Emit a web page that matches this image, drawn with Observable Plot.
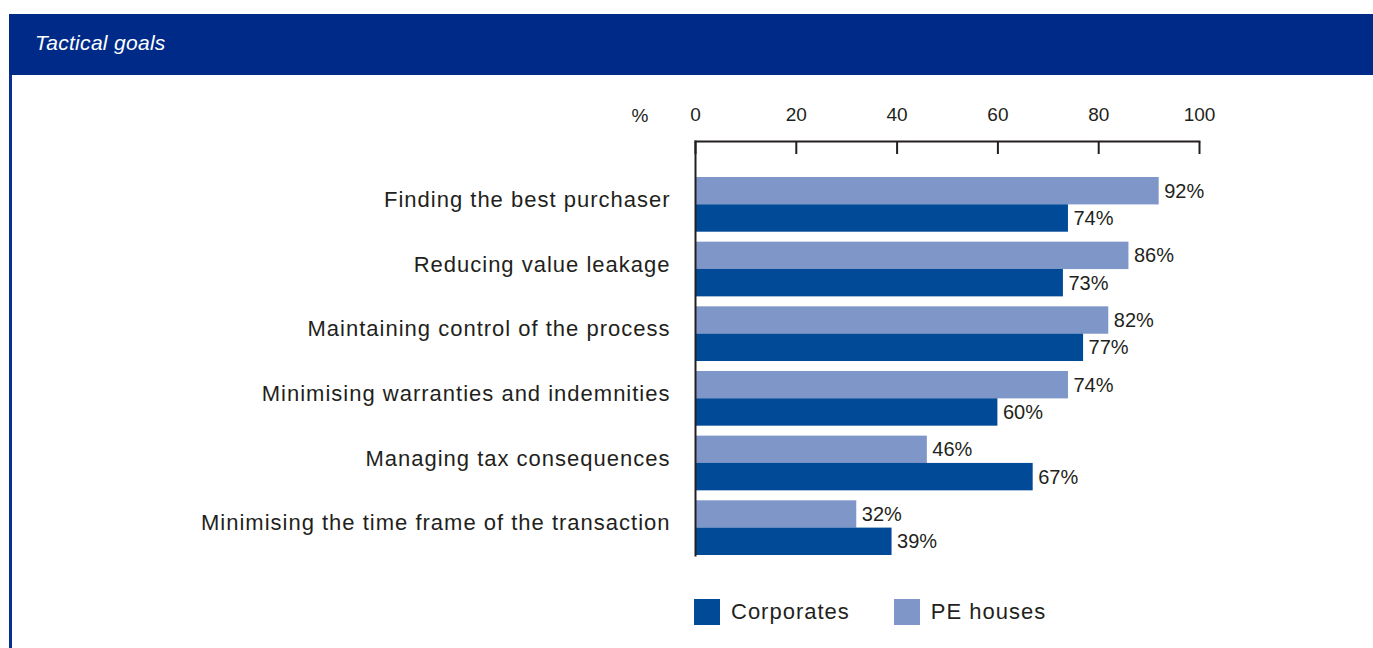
<!DOCTYPE html>
<html>
<head>
<meta charset="utf-8">
<script src="https://cdn.jsdelivr.net/npm/d3@7"></script>
<script src="https://cdn.jsdelivr.net/npm/@observablehq/plot@0.6"></script>
<style>
  html, body { margin: 0; padding: 0; background: #fff; }
  #root { position: relative; width: 1373px; height: 648px; overflow: hidden; font-family: "Liberation Sans", Arial, sans-serif; }
  #header { position: absolute; left: 9px; top: 14px; width: 1364px; height: 61px; background: #002a88; }
  #header span { position: absolute; left: 26px; top: 17px; color: #fff; font-style: italic; font-size: 21px; letter-spacing: 0.3px; }
  #sideline { position: absolute; left: 9px; top: 75px; width: 3px; height: 573px; background: #0a2f94; }
  #chart { position: absolute; left: 0; top: 75px; }
  #chart .cat text { letter-spacing: 1px; }
  #legend { position: absolute; left: 694px; top: 599px; display: flex; align-items: center; font-size: 22px; letter-spacing: 1px; color: #231f20; }
  .sw { display: inline-flex; align-items: center; margin-right: 44px; }
  .sw i { display: inline-block; width: 26px; height: 26px; margin-right: 11px; }
</style>
</head>
<body>
<div id="root">
  <div id="header"><span>Tactical goals</span></div>
  <div id="sideline"></div>
  <div id="chart"></div>
  <div id="legend"></div>
</div>
<script>
const categories = [
  "Finding the best purchaser",
  "Reducing value leakage",
  "Maintaining control of the process",
  "Minimising warranties and indemnities",
  "Managing tax consequences",
  "Minimising the time frame of the transaction"
];
const series = ["Corporates", "PE houses"];
const corporates = [74, 73, 77, 60, 67, 39];
const peHouses = [92, 86, 82, 74, 46, 32];
const xTicks = [0, 20, 40, 60, 80, 100];
const colors = ["#004a97", "#7f97c8"];

const rows = [];
categories.forEach((c, i) => {
  rows.push({category: c, series: "PE houses", value: peHouses[i]});
  rows.push({category: c, series: "Corporates", value: corporates[i]});
});
const pe = rows.filter(d => d.series === "PE houses");
const co = rows.filter(d => d.series === "Corporates");
const half = 27.3;
const ink = "#231f20";

const plot = Plot.plot({
  width: 1373,
  height: 500,
  marginLeft: 695,
  marginRight: 174,
  marginTop: 66,
  marginBottom: 20,
  style: {fontFamily: "Liberation Sans, Arial, sans-serif", color: ink},
  x: {domain: [0, 100], ticks: xTicks},
  y: {domain: categories, paddingInner: 0.154, paddingOuter: 0, insetTop: 36, round: false},
  color: {domain: series, range: colors},
  marks: [
    Plot.barX(pe, {x: "value", y: "category", fill: "series", insetBottom: half}),
    Plot.barX(co, {x: "value", y: "category", fill: "series", insetTop: half}),
    Plot.text(pe, {x: "value", y: "category", text: d => d.value + "%", dy: -half / 2, dx: 5, textAnchor: "start", fontSize: 20, fill: ink}),
    Plot.text(co, {x: "value", y: "category", text: d => d.value + "%", dy: half / 2, dx: 5, textAnchor: "start", fontSize: 20, fill: ink}),
    Plot.axisY({tickSize: 0, tickPadding: 25, fontSize: 22, dy: -5, label: null, fill: ink, className: "cat"}),
    Plot.axisX({anchor: "top", ticks: xTicks, tickSize: -12, tickPadding: 33, strokeWidth: 2, fontSize: 19, label: null, fill: ink, stroke: ink}),
    Plot.text(["%"], {frameAnchor: "top-left", dx: -47, dy: -26, textAnchor: "end", lineAnchor: "middle", fontSize: 19, fill: ink}),
    Plot.frame({anchor: "left", stroke: ink, strokeWidth: 2}),
    Plot.frame({anchor: "top", stroke: ink, strokeWidth: 2})
  ]
});
document.getElementById("chart").appendChild(plot);

const color = plot.scale("color");
const legend = document.getElementById("legend");
color.domain.forEach((s, i) => {
  const el = document.createElement("span");
  el.className = "sw";
  el.innerHTML = `<i style="background:${color.range[i]}"></i>${s}`;
  legend.appendChild(el);
});
</script>
</body>
</html>
